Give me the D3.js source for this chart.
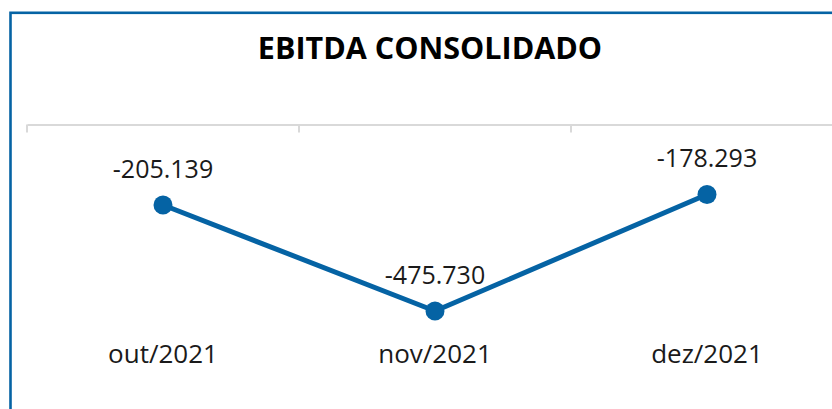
<!DOCTYPE html>
<html>
<head>
<meta charset="utf-8">
<script src="https://cdn.jsdelivr.net/npm/d3@7"></script>
<style>
  body { margin: 0; background: #fff; }
  svg { display: block; }
</style>
</head>
<body>
<script>
// Chart data
var categories = ["out/2021", "nov/2021", "dez/2021"];
var ebitda = [-205139, -475730, -178293];
var valueLabels = ["-205.139", "-475.730", "-178.293"];
var chartTitle = "EBITDA CONSOLIDADO";

var width = 832;
var height = 409;
var lineColor = "#0563a4";
var font = "'Open Sans', sans-serif";

var svg = d3.select("body").append("svg")
    .attr("width", width)
    .attr("height", height);

svg.append("rect")
    .attr("width", width)
    .attr("height", height)
    .attr("fill", "#fff");

// Frame (only left and top edges are visible in the window)
svg.append("rect")
    .attr("x", 10.5)
    .attr("y", 12.8)
    .attr("width", width + 20)
    .attr("height", height + 20)
    .attr("fill", "none")
    .attr("stroke", lineColor)
    .attr("stroke-width", 2.6);

// Title
svg.append("text")
    .attr("x", 430)
    .attr("y", 59)
    .attr("text-anchor", "middle")
    .attr("font-family", font)
    .attr("font-weight", "bold")
    .attr("font-size", "30.5px")
    .attr("fill", "#000")
    .text(chartTitle);

// Scales
var x = d3.scaleBand()
    .domain(categories)
    .range([27, 843])
    .padding(0);

var y = d3.scaleLinear()
    .domain([-500000, 0])
    .range([320.5, 124.6]);

// Category axis sits on the zero line, ticks between categories
var axis = svg.append("g")
    .attr("transform", "translate(0," + y(0) + ")")
    .call(d3.axisBottom(x).tickSize(8).tickSizeOuter(0).tickFormat(""));

axis.select(".domain")
    .attr("stroke", "#d9d9d9")
    .attr("stroke-width", 2);
axis.selectAll(".tick")
    .attr("transform", function(d) { return "translate(" + x(d) + ",0)"; });
axis.selectAll(".tick line")
    .attr("stroke", "#d9d9d9")
    .attr("stroke-width", 2);

// Category labels (low position)
svg.selectAll("text.cat")
    .data(categories)
    .enter()
    .append("text")
    .attr("class", "cat")
    .attr("x", function(d) { return x(d) + x.bandwidth() / 2; })
    .attr("y", 363)
    .attr("text-anchor", "middle")
    .attr("font-family", font)
    .attr("font-size", "26px")
    .attr("fill", "#1a1a1a")
    .text(function(d) { return d; });

// Line
var line = d3.line()
    .x(function(d, i) { return x(categories[i]) + x.bandwidth() / 2; })
    .y(function(d) { return y(d); });

svg.append("path")
    .datum(ebitda)
    .attr("d", line)
    .attr("fill", "none")
    .attr("stroke", lineColor)
    .attr("stroke-width", 5)
    .attr("stroke-linejoin", "round");

// Markers
svg.selectAll("circle.pt")
    .data(ebitda)
    .enter()
    .append("circle")
    .attr("class", "pt")
    .attr("cx", function(d, i) { return x(categories[i]) + x.bandwidth() / 2; })
    .attr("cy", function(d) { return y(d); })
    .attr("r", 9.5)
    .attr("fill", lineColor);

// Data labels above points
svg.selectAll("text.val")
    .data(ebitda)
    .enter()
    .append("text")
    .attr("class", "val")
    .attr("x", function(d, i) { return x(categories[i]) + x.bandwidth() / 2; })
    .attr("y", function(d) { return y(d) - 27; })
    .attr("text-anchor", "middle")
    .attr("font-family", font)
    .attr("font-size", "25px")
    .attr("fill", "#1a1a1a")
    .text(function(d, i) { return valueLabels[i]; });
</script>
</body>
</html>
